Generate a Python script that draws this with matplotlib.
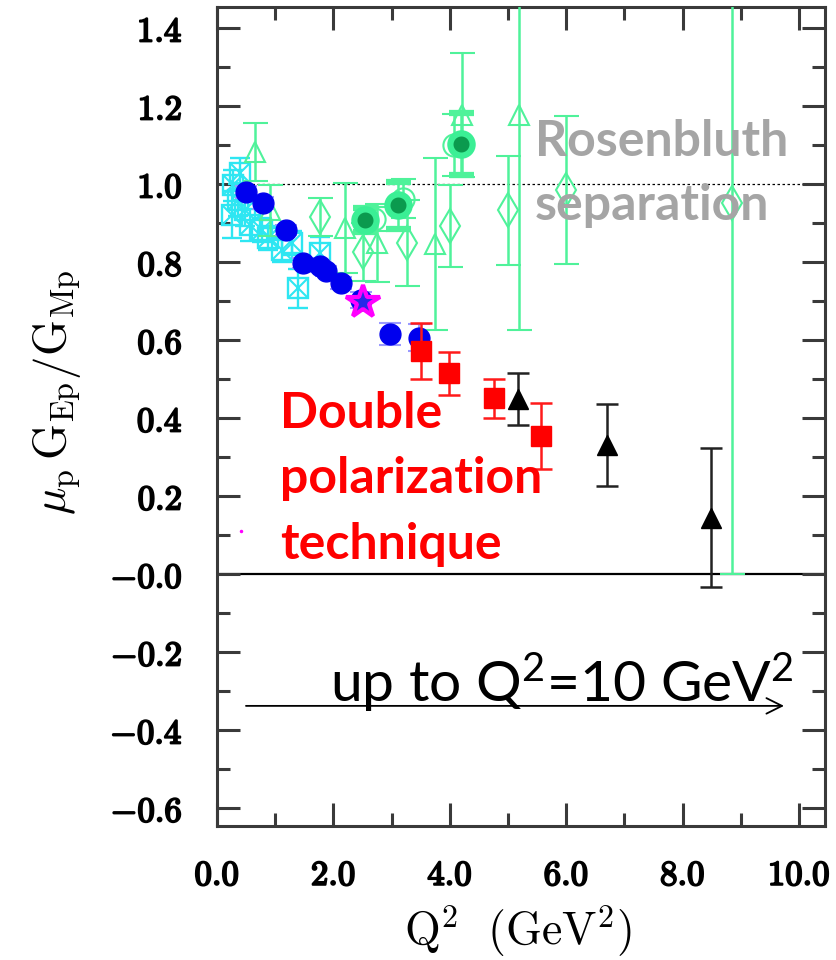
import numpy as np
import matplotlib.pyplot as plt
import matplotlib.patheffects as pe
from matplotlib.ticker import MultipleLocator

plt.rcParams['mathtext.fontset'] = 'cm'
# used only by the text that asks for math_fontfamily='custom'
plt.rcParams['mathtext.rm'] = 'Lato'
plt.rcParams['mathtext.it'] = 'Lato:italic'
plt.rcParams['mathtext.bf'] = 'Lato:bold'

# ---- data ----
# polarization transfer, blue circles
pol_blue_q2 = [0.49, 0.79, 1.18, 1.48, 1.77, 1.88, 2.13, 2.47, 2.97, 3.47]
pol_blue_r = [0.979, 0.951, 0.883, 0.798, 0.789, 0.777, 0.747, 0.703, 0.615, 0.606]
pol_blue_err = [0.015, 0.015, 0.013, 0.013, 0.014, 0.014, 0.015, 0.02, 0.028, 0.035]

# low Q2 polarization data, cyan boxed crosses
pol_cyan_q2 = [0.40, 0.27, 0.36, 0.26, 0.48, 0.57, 0.77, 0.88, 1.12, 1.29, 1.39, 1.77]
pol_cyan_r = [1.028, 0.997, 0.959, 0.921, 0.933, 0.895, 0.882, 0.862, 0.831, 0.849, 0.733, 0.823]
pol_cyan_err = [0.04, 0.04, 0.04, 0.06, 0.04, 0.04, 0.03, 0.03, 0.03, 0.03, 0.05, 0.04]

# star
star_q2 = [2.51]
star_r = [0.697]

# tiny magenta dot
dot_q2 = [0.41]
dot_r = [0.11]

# red squares
red_q2 = [3.50, 3.98, 4.76, 5.56]
red_r = [0.572, 0.515, 0.451, 0.354]
red_err = [0.072, 0.055, 0.05, 0.085]

# black triangles
blk_q2 = [5.17, 6.70, 8.49]
blk_r = [0.449, 0.331, 0.144]
blk_err = [0.066, 0.104, 0.178]

# Rosenbluth separation, green
ros_tri_q2 = [0.65, 0.91, 2.20, 2.75, 3.75, 4.21, 5.19]
ros_tri_r = [1.082, 0.933, 0.887, 0.849, 0.846, 1.177, 1.177]
ros_tri_err = [0.075, 0.065, 0.115, 0.10, 0.22, 0.16, 0.55]

ros_dia_q2 = [1.77, 2.51, 3.26, 4.00, 5.00, 6.00, 8.85]
ros_dia_r = [0.915, 0.826, 0.849, 0.892, 0.933, 0.985, 0.951]
ros_dia_err = [0.048, 0.075, 0.11, 0.105, 0.14, 0.19, 0.95]

ros_open_q2 = [2.70, 3.20, 4.07]
ros_open_r = [0.910, 0.962, 1.100]
ros_open_err = [0.03, 0.05, 0.08]

ros_fill_q2 = [2.54, 3.11, 4.19]
ros_fill_r = [0.908, 0.946, 1.103]
ros_fill_err = [0.03, 0.06, 0.08]

xticks = [0, 2, 4, 6, 8, 10]
xtick_labels = ['0.0', '2.0', '4.0', '6.0', '8.0', '10.0']
yticks = [-0.6, -0.4, -0.2, 0.0, 0.2, 0.4, 0.6, 0.8, 1.0, 1.2, 1.4]
ytick_labels = ['-0.6', '-0.4', '-0.2', '-0.0', '0.2', '0.4', '0.6', '0.8', '1.0', '1.2', '1.4']

green = '#4ff29a'
cyan = '#2ee6f2'

# ---- figure ----
fig = plt.figure(figsize=(8.36, 9.6), dpi=100)
ax = fig.add_axes([217/836, 134/960, 608/836, 819/960])

ax.axhline(1.0, color='black', lw=0.9, ls=(0, (2, 2)), zorder=1)
ax.axhline(0.0, color='black', lw=1.6, zorder=1)

# cyan boxes with crosses
ax.errorbar(pol_cyan_q2, pol_cyan_r, yerr=pol_cyan_err, fmt='s', ms=14, mfc='none',
            mec=cyan, mew=1.7, ecolor=cyan, elinewidth=1.7, capsize=7, capthick=1.7, zorder=2)
ax.plot(pol_cyan_q2, pol_cyan_r, 'x', ms=13, color=cyan, mew=1.5, zorder=2)

# Rosenbluth points
ax.errorbar(ros_tri_q2, ros_tri_r, yerr=ros_tri_err, fmt='^', ms=15, mfc='none', mec=green,
            mew=1.5, ecolor=green, elinewidth=1.8, capsize=9, capthick=1.8, zorder=3)
ax.errorbar(ros_dia_q2, ros_dia_r, yerr=ros_dia_err, fmt='d', ms=17, mfc='none', mec=green,
            mew=1.5, ecolor=green, elinewidth=1.8, capsize=9, capthick=1.8, zorder=3)
ax.errorbar(ros_open_q2, ros_open_r, yerr=ros_open_err, fmt='o', ms=16, mfc='none', mec=green,
            mew=1.5, ecolor=green, elinewidth=1.8, capsize=9, capthick=1.8, zorder=3)
ax.errorbar(ros_fill_q2, ros_fill_r, yerr=ros_fill_err, fmt='o', ms=16, mfc='#0b9a4e', mec='#3bef95',
            mew=4.5, ecolor=green, elinewidth=1.8, capsize=9, capthick=1.8, zorder=4)

# blue circles
ax.errorbar(pol_blue_q2, pol_blue_r, yerr=pol_blue_err, fmt='o', ms=15, color='#0000ee',
            ecolor='#9a9aff', elinewidth=1.5, capsize=8, capthick=1.5, zorder=5)
ax.plot(star_q2, star_r, '*', ms=25, mfc='#2828e8', mec='#ff00ff', mew=3, zorder=6)
ax.plot(dot_q2, dot_r, '.', ms=3, color='#ff00ff', zorder=6)

# red squares and black triangles
ax.errorbar(red_q2, red_r, yerr=red_err, fmt='s', ms=15, color='#ff0000',
            ecolor='#ff1a1a', elinewidth=1.8, capsize=8, capthick=1.8, zorder=6)
ax.errorbar(blk_q2, blk_r, yerr=blk_err, fmt='^', ms=15, color='black',
            ecolor='#222222', elinewidth=1.8, capsize=8, capthick=1.8, zorder=6)

ax.set_xlim(0, 10.447)
ax.set_ylim(-0.646, 1.454)

ax.set_xticks(xticks)
ax.set_xticklabels([r'$%s$' % s for s in xtick_labels])
ax.set_yticks(yticks)
ax.set_yticklabels([r'$%s$' % s for s in ytick_labels])
ax.xaxis.set_minor_locator(MultipleLocator(1))
ax.yaxis.set_minor_locator(MultipleLocator(0.1))

frame_col = '#3a3a3a'
for sp in ax.spines.values():
    sp.set_linewidth(2.2)
    sp.set_color(frame_col)
ax.tick_params(which='both', direction='in', top=True, right=True, color=frame_col, width=2.2)
ax.tick_params(which='major', length=16.5)
ax.tick_params(which='minor', length=9.4)
ax.tick_params(axis='y', labelsize=25, pad=25)
ax.tick_params(axis='x', labelsize=25, pad=23)

# heavier tick labels, like the bold serif of the original
for lab in ax.get_xticklabels() + ax.get_yticklabels():
    lab.set_path_effects([pe.withStroke(linewidth=1.4, foreground='black')])

ax.set_ylabel(r'$\left.\mu_{\rm p}\,{\rm G}_{\rm Ep}\right/{\rm G}_{\rm Mp}$', fontsize=33)
ax.yaxis.set_label_coords(-0.22, 0.53)
ax.set_xlabel(r'$\mathrm{Q}^2\ \ (\mathrm{GeV}^2)$', fontsize=33)
ax.xaxis.set_label_coords(0.495, -0.094)

# annotations
fig.text(535/836, 1 - 119/960, 'Rosenbluth\nseparation', family='Lato', weight='bold',
         fontsize=36, color='#a5a5a5', ha='left', va='top', linespacing=1.52, zorder=10)
fig.text(280/836, 1 - 391/960, 'Double\npolarization\ntechnique', family='Lato', weight='bold',
         fontsize=36, color='#ff0000', ha='left', va='top', linespacing=1.55, zorder=10)

ax.annotate('', xy=(9.79, -0.338), xytext=(0.45, -0.338),
            arrowprops=dict(arrowstyle='->', lw=1.3, color='black', mutation_scale=28))
fig.text(330/836, 1 - 702/960, r'up to Q$^{\mathrm{2}}$=10 GeV$^{\mathrm{2}}$', family='Lato',
         fontsize=41, color='black', ha='left', va='baseline', math_fontfamily='custom')

fig.savefig('out.png', dpi=100)
